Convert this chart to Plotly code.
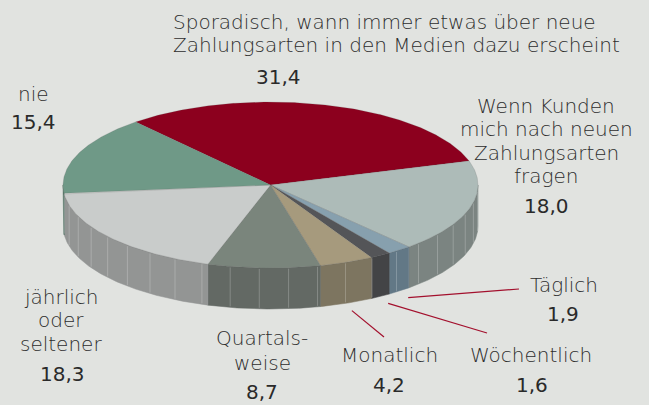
import numpy as np
import plotly.graph_objects as go

# ---------------- data ----------------
categories = [
    "Sporadisch, wann immer etwas über neue Zahlungsarten in den Medien dazu erscheint",
    "Wenn Kunden mich nach neuen Zahlungsarten fragen",
    "Täglich",
    "Wöchentlich",
    "Monatlich",
    "Quartalsweise",
    "jährlich oder seltener",
    "nie",
]
values = [31.4, 18.0, 1.9, 1.6, 4.2, 8.7, 18.3, 15.4]
label_lines = [
    ["Sporadisch, wann immer etwas über neue", "Zahlungsarten in den Medien dazu erscheint"],
    ["Wenn Kunden", "mich nach neuen", "Zahlungsarten", "fragen"],
    ["Täglich"],
    ["Wöchentlich"],
    ["Monatlich"],
    ["Quartals-", "weise"],
    ["jährlich", "oder", "seltener"],
    ["nie"],
]
value_texts = [f"{v:.1f}".replace(".", ",") for v in values]

# ---------------- styles / layout constants ----------------
top_colors = ["#8c001e", "#adbbb8", "#87a0ae", "#545558", "#a69a7d", "#7a857c", "#c9cccb", "#6f9987"]
side_colors = ["#6a0016", "#7b8481", "#627886", "#434446", "#7d7560", "#636964", "#939594", "#4f6e60"]
BG = "#e1e3e0"
CX, CY, RX, RY, DEPTH = 270.5, 185.0, 207.5, 83.0, 41.0
START = 130.5  # degrees, slices run clockwise

# label placement (pixel coords)
label_x = [171, 546, 564, 531, 389, 262, 61, 33]
num_x = [278, 546, 563, 532, 389, 262, 62, 33]
label_y = [[22, 45], [106, 129, 153, 176], [285], [355], [355], [338, 363], [297, 320, 344], [94]]
num_y = [77, 206, 314, 385, 385, 392, 374, 122]
label_anchor = ["left", "center", "center", "center", "center", "center", "center", "center"]
leader_end = {2: (519, 289), 3: (487, 333), 4: (384, 337)}

# ---------------- geometry ----------------
def ell(t_deg, scale=1.0, dy=0.0):
    t = np.radians(t_deg)
    return CX + RX * scale * np.cos(t), CY - RY * scale * np.sin(t) + dy

total = sum(values)
spans = [v / total * 360.0 for v in values]
starts, ends = [], []
a = START
for s in spans:
    starts.append(a)
    ends.append(a - s)
    a -= s

fig = go.Figure()

# sides (front half only, angles in [-180, 0])
for i in range(len(values)):
    hi = min(starts[i], 0.0)
    lo = max(ends[i], -180.0)
    if hi <= lo:
        continue
    n = max(int((hi - lo) / 0.5), 2)
    ts = np.linspace(hi, lo, n)
    xt, yt = ell(ts)
    xb, yb = ell(ts[::-1], dy=DEPTH)
    fig.add_trace(go.Scatter(
        x=np.concatenate([xt, xb, xt[:1]]), y=np.concatenate([yt, yb, yt[:1]]),
        mode="lines", fill="toself", fillcolor=side_colors[i],
        line=dict(color=side_colors[i], width=0.5), hoverinfo="skip"))

# facet lines on the side
fx, fy = [], []
for t in np.arange(-4.0, -180.0, -8.1):
    x0, y0 = ell(t)
    fx += [x0, x0, None]
    fy += [y0 + 1, y0 + DEPTH - 1, None]
fig.add_trace(go.Scatter(x=fx, y=fy, mode="lines",
                         line=dict(color="rgba(255,255,255,0.22)", width=1), hoverinfo="skip"))

# top faces
for i in range(len(values)):
    n = max(int(spans[i] / 0.5), 2)
    ts = np.linspace(starts[i], ends[i], n)
    xs, ys = ell(ts)
    fig.add_trace(go.Scatter(
        x=np.concatenate([[CX], xs, [CX]]), y=np.concatenate([[CY], ys, [CY]]),
        mode="lines", fill="toself", fillcolor=top_colors[i],
        line=dict(color="rgba(90,90,90,0.3)", width=0.6), hoverinfo="skip",
        name=categories[i]))

# leader lines
for i, (ex, ey) in leader_end.items():
    mid = (starts[i] + ends[i]) / 2
    sx, sy = ell(mid, scale=1.07, dy=DEPTH + 2)
    fig.add_trace(go.Scatter(x=[sx, ex], y=[sy, ey], mode="lines",
                             line=dict(color="#a3102d", width=1.2), hoverinfo="skip"))

# labels
LABEL_FONT = dict(family="DejaVu Sans", size=20, color="#2e2e2e", weight=200)
NUM_FONT = dict(family="DejaVu Sans", size=20, color="#2a2a2a", weight=400)
annotations = []
for i in range(len(values)):
    for line, y in zip(label_lines[i], label_y[i]):
        annotations.append(dict(x=label_x[i], y=y, xref="x", yref="y", text=line,
                                showarrow=False, xanchor=label_anchor[i], yanchor="middle",
                                font=LABEL_FONT))
    annotations.append(dict(x=num_x[i], y=num_y[i], xref="x", yref="y", text=value_texts[i],
                            showarrow=False, xanchor="center", yanchor="middle", font=NUM_FONT))

fig.update_layout(
    width=649, height=405, margin=dict(l=0, r=0, t=0, b=0),
    paper_bgcolor=BG, plot_bgcolor=BG, showlegend=False,
    xaxis=dict(range=[0, 649], visible=False, fixedrange=True),
    yaxis=dict(range=[405, 0], visible=False, fixedrange=True),
    annotations=annotations,
)
fig.write_html("out.html", config={"displayModeBar": False},
               post_script="document.body.style.margin='0';document.body.style.background='%s';" % BG)
